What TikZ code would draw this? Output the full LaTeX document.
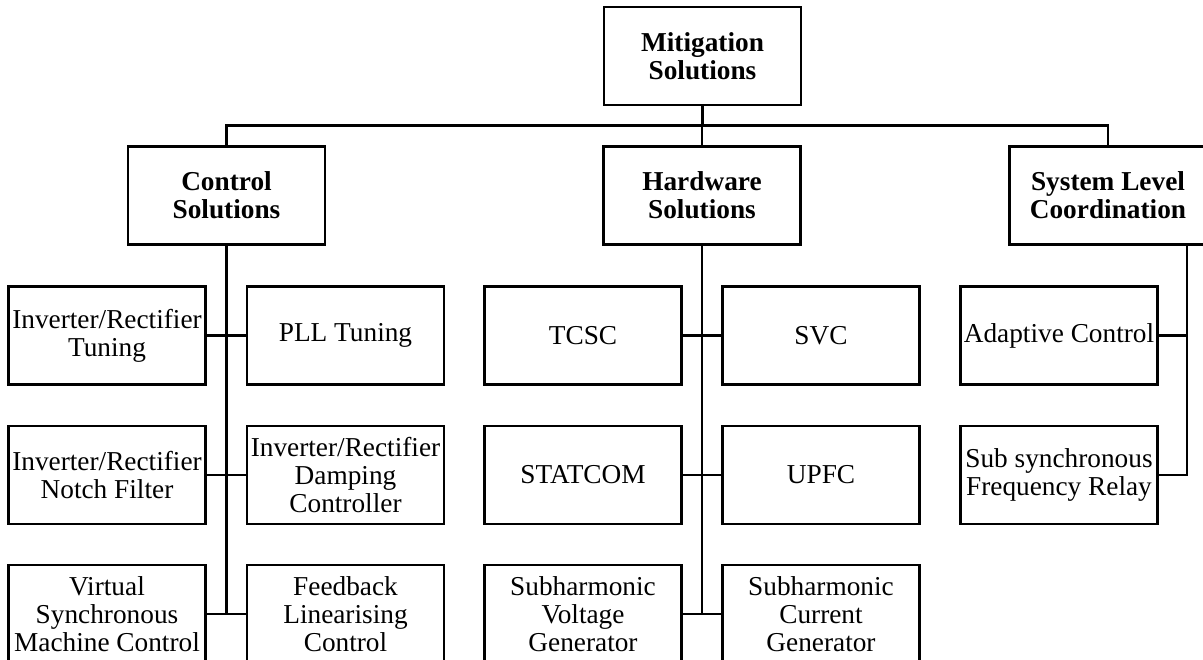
\documentclass[tikz,border=0pt]{standalone}
\usepackage{fontspec}
\setmainfont{Liberation Serif}
\begin{document}
\begin{tikzpicture}[x=1pt,y=-1pt,
  box/.style={draw, line width=2.2pt, minimum width=197pt, minimum height=98pt,
    inner sep=0pt, align=center, font=\fontsize{27.3}{28.3}\selectfont},
  headbox/.style={box, font=\fontsize{27.3}{28.3}\selectfont\bfseries},
  link/.style={line width=2.2pt}]
\useasboundingbox (0,0) rectangle (1203,660);
\clip (0,0) rectangle (1203,660);
% top levels
\node[headbox] (mit) at (702.5,56) {Mitigation\\Solutions};
\node[headbox] (ctrl) at (226.5,195.5) {Control\\Solutions};
\node[headbox] (hw) at (702,195.5) {Hardware\\Solutions};
\node[headbox] (sys) at (1108,195.5) {System Level\\Coordination};
% control column
\node[box] (c1l) at (107,335.5) {Inverter/Rectifier\\Tuning};
\node[box] (c1r) at (345.5,335.5) {PLL Tuning};
\node[box] (c2l) at (107,475) {Inverter/Rectifier\\Notch Filter};
\node[box] (c2r) at (345.5,475) {Inverter/Rectifier\\Damping\\Controller};
\node[box] (c3l) at (107,614) {Virtual\\Synchronous\\Machine Control};
\node[box] (c3r) at (345.5,614) {Feedback\\Linearising\\Control};
% hardware column
\node[box] (h1l) at (583,335.5) {TCSC};
\node[box] (h1r) at (821,335.5) {SVC};
\node[box] (h2l) at (583,475) {STATCOM};
\node[box] (h2r) at (821,475) {UPFC};
\node[box] (h3l) at (583,614) {Subharmonic\\Voltage\\Generator};
\node[box] (h3r) at (821,614) {Subharmonic\\Current\\Generator};
% system column
\node[box] (s1) at (1059,335.5) {Adaptive Control};
\node[box] (s2) at (1059,475) {Sub synchronous\\Frequency Relay};
% bus
\coordinate (bus) at (702.5,125.5);
\draw[link] (mit.south) -- (bus);
\draw[link] (ctrl.north) -- (ctrl.north |- bus) -- (sys.north |- bus) -- (sys.north);
\draw[link] (hw.north) -- (hw.north |- bus);
% control links
\draw[link] (ctrl.south) -- (ctrl.south |- c3l.east);
\draw[link] (c1l.east) -- (c1r.west);
\draw[link] (c2l.east) -- (c2r.west);
\draw[link] (c3l.east) -- (c3r.west);
% hardware links
\draw[link] (hw.south) -- (hw.south |- h3l.east);
\draw[link] (h1l.east) -- (h1r.west);
\draw[link] (h2l.east) -- (h2r.west);
\draw[link] (h3l.east) -- (h3r.west);
% system links
\coordinate (sv) at (1187,244.5);
\draw[link] (sv) -- (sv |- s2.east) -- (s2.east);
\draw[link] (s1.east) -- (s1.east -| sv);
\end{tikzpicture}
\end{document}
